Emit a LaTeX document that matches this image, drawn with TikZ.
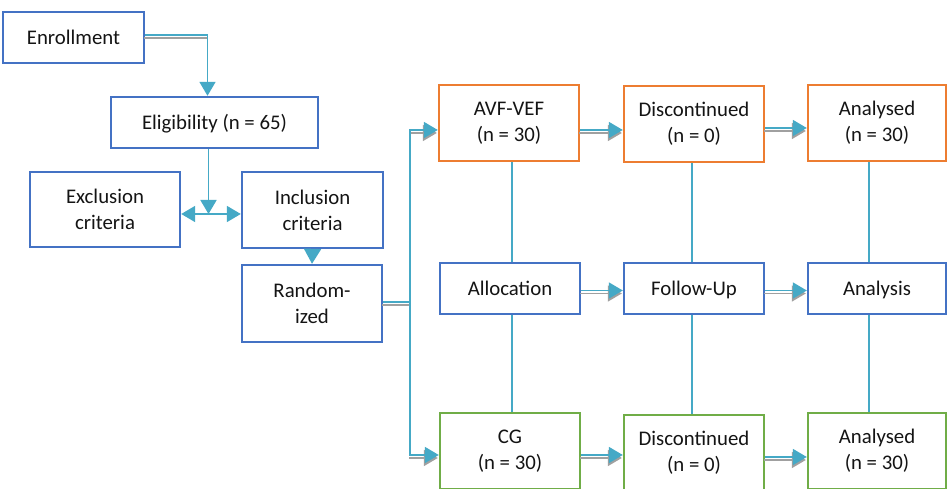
\documentclass[tikz,border=0pt]{standalone}
\usepackage{fontspec}
\setmainfont{Carlito}
\usetikzlibrary{arrows.meta,calc}
\definecolor{bbl}{HTML}{4472C4}
\definecolor{bor}{HTML}{ED7D31}
\definecolor{bgr}{HTML}{70AD47}
\definecolor{cyn}{HTML}{45A9C6}
\definecolor{shd}{HTML}{A0A0A0}
\definecolor{txt}{HTML}{141414}
\tikzset{
  box/.style={draw, line width=2.4pt, fill=white, align=center, text=txt,
    font=\fontsize{20.8}{26}\selectfont, inner sep=0pt},
  bx/.style 2 args={box, minimum width=#1, minimum height=#2},
  sl/.style={text height=14pt, text depth=0pt},
  con/.style={draw=cyn, line width=1.8pt},
  arr/.style={-{Triangle[length=14pt,width=16pt]}},
  sh/.style={draw=shd, fill=shd, line width=1.8pt, transform canvas={shift={(-1pt,-3pt)}}},
}
\begin{document}
\begin{tikzpicture}[x=1pt,y=1pt]
\useasboundingbox (0,0) rectangle (948,489);
\fill[white] (0,0) rectangle (948,489);
% left column
\node[bx={141pt}{51pt}, draw=bbl, sl] (enr) at (73.5,451.5) {Enrollment};
\node[bx={207pt}{51pt}, draw=bbl, sl] (elig) at (214.5,366.5) {Eligibility (n = 65)};
\node[bx={150pt}{75pt}, draw=bbl] (excl) at (105,279.5) {Exclusion\\criteria};
\node[bx={141pt}{76pt}, draw=bbl] (incl) at (312.5,279) {Inclusion\\criteria};
\node[bx={140pt}{77pt}, draw=bbl] (rand) at (312,185.5) {Random-\\ized};
% top row
\node[bx={140pt}{76pt}, draw=bor] (avf) at (509,366) {AVF-VEF\\(n = 30)};
\node[bx={140pt}{76pt}, draw=bor] (disc1) at (694,365) {Discontinued\\(n = 0)};
\node[bx={138pt}{76pt}, draw=bor] (ana1) at (877,366) {Analysed\\(n = 30)};
% middle row
\node[bx={140pt}{51pt}, draw=bbl, sl] (alloc) at (510,200.5) {Allocation};
\node[bx={140pt}{51pt}, draw=bbl, sl] (fu) at (694,200.5) {Follow-Up};
\node[bx={138pt}{51pt}, draw=bbl, sl] (anal) at (877,200.5) {Analysis};
% bottom row
\node[bx={140pt}{76pt}, draw=bgr] (cg) at (510,38) {CG\\(n = 30)};
\node[bx={140pt}{76pt}, draw=bgr] (disc2) at (694,36) {Discontinued\\(n = 0)};
\node[bx={138pt}{76pt}, draw=bgr] (ana2) at (877,38) {Analysed\\(n = 30)};
% vertical column links
\draw[con, line width=1.4pt] ([xshift=3pt]avf.south) -- ([xshift=3pt]avf.south |- alloc.north);
\draw[con, line width=1.4pt] ([xshift=2pt]alloc.south) -- ([xshift=2pt]alloc.south |- cg.north);
\draw[con, line width=1.4pt] ([xshift=-2pt]disc1.south) -- ([xshift=-2pt]disc1.south |- fu.north);
\draw[con, line width=1.4pt] ([xshift=-2pt]fu.south) -- ([xshift=-2pt]fu.south |- disc2.north);
\draw[con, line width=1.4pt] ([xshift=-8pt]ana1.south) -- ([xshift=-8pt]ana1.south |- anal.north);
\draw[con, line width=1.4pt] ([xshift=-8pt]anal.south) -- ([xshift=-8pt]anal.south |- ana2.north);
% enrollment -> eligibility
\coordinate (ec) at ([xshift=-7pt]elig.north |- enr.east);
\draw[sh] ([yshift=2.5pt]enr.east) -- ([yshift=2.5pt]ec);
\draw[con, arr] ([yshift=2.5pt]enr.east) -| ([xshift=-7pt]elig.north);
% eligibility -> split
\coordinate (jn) at ([xshift=-6pt]elig.south |- excl.east);
\draw[con, arr] ([xshift=-6pt]elig.south) -- ([yshift=-4.5pt]jn);
\draw[con, {Triangle[length=14pt,width=16pt]}-{Triangle[length=14pt,width=16pt]}] ([yshift=-4.5pt]excl.east) -- ([yshift=-4.5pt]excl.east -| incl.west);
% inclusion -> randomized
\draw[con, -{Triangle[length=15pt,width=17pt]}] (incl.south) -- (rand.north);
% randomized branch
\coordinate (br) at ([shift={(27pt,1.5pt)}]rand.east);
\draw[sh] ([yshift=1.5pt]rand.east) -- (br);
\draw[con] ([yshift=1.5pt]rand.east) -- (br);
\draw[sh, arr] (br |- avf.west) ++(0,-7pt) -- ([yshift=-7pt]avf.west);
\draw[sh, arr] (br |- cg.west) ++(0,-4pt) -- ([yshift=-4pt]cg.west);
\draw[con, arr] (br) |- ([yshift=-7pt]avf.west);
\draw[con, arr] (br) |- ([yshift=-4pt]cg.west);
% row arrows
\foreach \a/\b/\s in {avf/disc1/-7pt, disc1/ana1/-4pt, alloc/fu/-2pt, fu/anal/-2pt, cg/disc2/-4pt, disc2/ana2/-4pt}{
  \draw[sh, arr] ([yshift=\s]\a.east) -- ([yshift=\s]\a.east -| \b.west);
  \draw[con, arr] ([yshift=\s]\a.east) -- ([yshift=\s]\a.east -| \b.west);
}
\end{tikzpicture}
\end{document}
